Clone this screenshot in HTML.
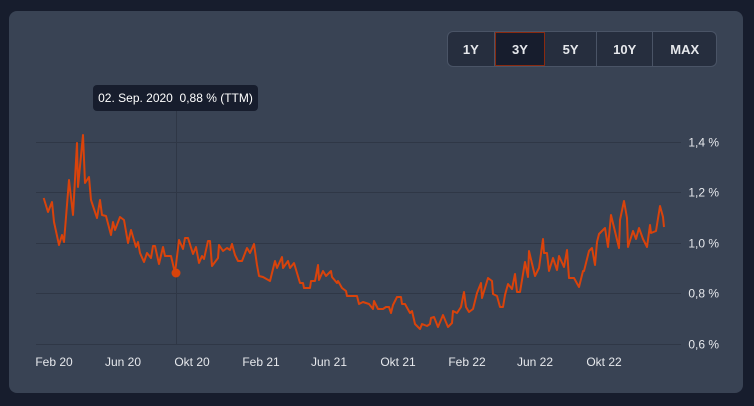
<!DOCTYPE html>
<html><head><meta charset="utf-8"><style>
html,body{margin:0;padding:0;background:#171d2d;width:754px;height:406px;overflow:hidden;font-family:"Liberation Sans",sans-serif;}
.card{position:absolute;left:9px;top:11px;width:734px;height:382px;background:#394354;border-radius:8px;}
.btns{position:absolute;left:447px;top:31px;width:270px;height:36px;border:1px solid #4a5466;border-radius:6px;background:#262e3e;display:flex;overflow:hidden;box-sizing:border-box;}
.btns div{display:flex;align-items:center;justify-content:center;color:#e6e8ec;font-weight:bold;font-size:13px;border-right:1px solid #4a5466;box-sizing:border-box;}
.btns div:last-child{border-right:none;}
.btns .act{background:#171d2d;border:1px solid #8a2a10;}
.tip{position:absolute;left:93px;top:85px;width:165px;height:26px;background:#171d2d;border-radius:4px;color:#fff;font-size:12px;line-height:26px;text-align:center;white-space:pre;}
svg{position:absolute;left:0;top:0;}
</style></head><body>
<div class="card"></div>
<svg width="754" height="406">
<g stroke="#2f3746" stroke-width="1">
<line x1="36" y1="142.5" x2="681" y2="142.5"/>
<line x1="36" y1="192.5" x2="681" y2="192.5"/>
<line x1="36" y1="243.5" x2="681" y2="243.5"/>
<line x1="36" y1="293.5" x2="681" y2="293.5"/>
<line x1="36" y1="344.5" x2="681" y2="344.5"/>
<line x1="176.5" y1="111" x2="176.5" y2="344"/>
</g>
<g fill="#e6e8ec" font-size="12" font-family="Liberation Sans, sans-serif">
<text x="719" y="146.5" text-anchor="end">1,4 %</text>
<text x="719" y="196.5" text-anchor="end">1,2 %</text>
<text x="719" y="247.5" text-anchor="end">1,0 %</text>
<text x="719" y="297.5" text-anchor="end">0,8 %</text>
<text x="719" y="348.5" text-anchor="end">0,6 %</text>
<g text-anchor="middle">
<text x="54" y="366">Feb 20</text>
<text x="123" y="366">Jun 20</text>
<text x="192" y="366">Okt 20</text>
<text x="261" y="366">Feb 21</text>
<text x="329" y="366">Jun 21</text>
<text x="398" y="366">Okt 21</text>
<text x="467" y="366">Feb 22</text>
<text x="535" y="366">Jun 22</text>
<text x="604" y="366">Okt 22</text>
</g></g>
<polyline fill="none" stroke="#d9430b" stroke-width="2" stroke-linejoin="round" points="
43.7,198 48,212 52,202 54,222 59,245 62,235 64,242 69,180 73,215 77,143 78,187 83,135 85,183 89,177 91,200 97,218 100,200 102,215 106,216 111,235 113,222 115,230 120,217 124,220 128,243 131,230 136,247 138,242 140,253 144,262 147,253 151,258 153,246 155,246 159,264 163,247 165,256 171,256 175,273 179,240 183,249 185,238 188,238 193,254 196,247 199,263 202,256 204,259 208,241 210,241 212,266 218,258 219,245 223,251 227,248 230,250 232,244 235,255 238,261 242,261 247,248 250,253 254,244 257,265 259,276 263,277 270,281 275,261 277,268 282,257 283,268 288,261 290,268 294,263 300,283 303,283 304,288 310,288 311,281 315,281 318,265 319,280 323,271 326,276 331,271 332,277 337,283 338,281 342,288 346,291 347,296 357,296 359,304 363,302 366,303 369,304 373,309 374,301 378,309 383,309 386,307 389,307 391,313 393,305 397,297 401,297 402,304 405,304 410,313 412,311 415,324 420,329 422,324 427,326 430,324 431,318 434,317 438,327 443,315 448,327 452,323 453,311 457,313 461,307 464,292 466,307 469,312 473,309 477,293 481,283 482,298 488,278 492,281 493,294 497,296 500,307 503,307 505,295 508,284 512,289 515,274 517,292 520,292 525,262 528,277 529,251 535,276 539,268 543,239 544,253 547,253 549,271 553,258 557,270 559,256 564,267 567,250 569,278 574,278 579,287 583,271 584,271 589,251 592,248 595,265 597,242 599,234 605,228 608,247 611,215 619,248 620,220 624,201 627,218 628,247 633,231 636,239 639,228 643,239 647,247 650,225 651,233 656,231 660,206 663,217 664,227"/>
<circle cx="176" cy="273" r="4.5" fill="#d9430b"/>
</svg>
<div class="tip">02. Sep. 2020  0,88 % (TTM)</div>
<div class="btns">
<div style="width:47px">1Y</div>
<div class="act" style="width:51px">3Y</div>
<div style="width:52px">5Y</div>
<div style="width:57px">10Y</div>
<div style="width:63px">MAX</div>
</div>
</body></html>
